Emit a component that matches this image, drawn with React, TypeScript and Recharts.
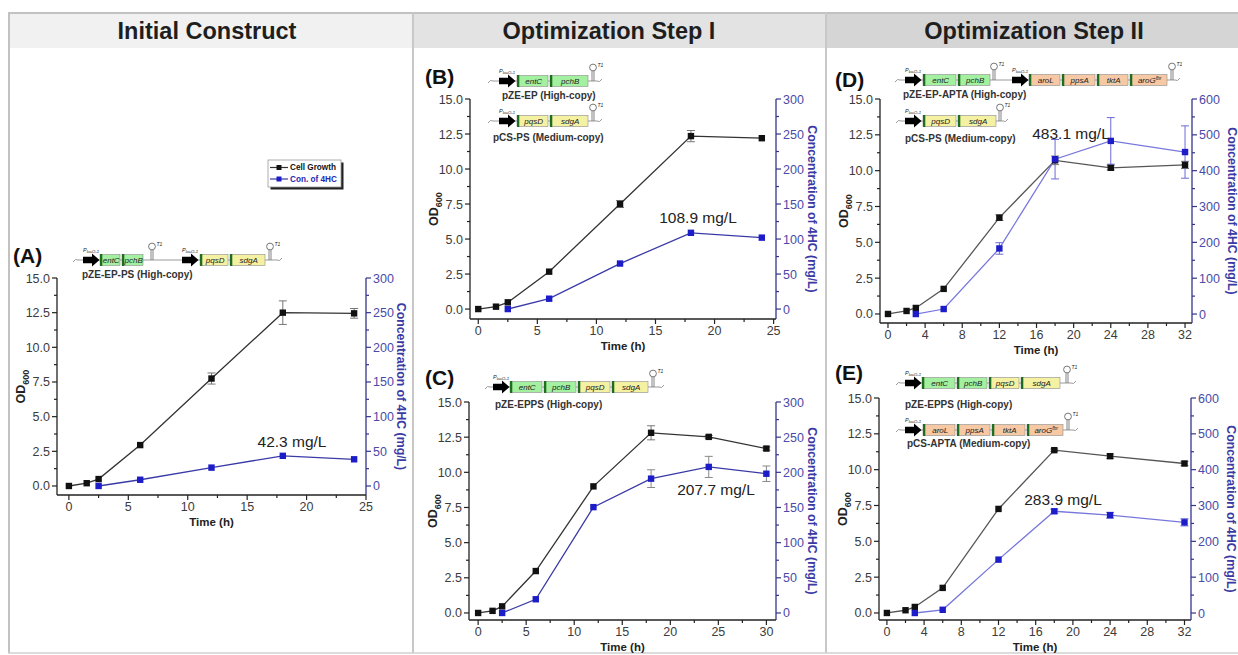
import React from 'react';
import { LineChart, Line, XAxis, YAxis, ErrorBar } from 'recharts';

const FONT = '"Liberation Sans", Arial, Helvetica, sans-serif';

// ---------------- Data ----------------
const timeA = [0, 1.5, 2.5, 6, 12, 18, 24];
const odA = [0, 0.2, 0.5, 2.95, 7.75, 12.5, 12.45];
const odErrA = [null, null, null, null, 0.4, 0.85, 0.35];
const hcA = [null, null, 0, 9, 26.5, 43.5, 38.5];
const hcErrA = [null, null, null, null, null, null, null];

const timeB = [0, 1.5, 2.5, 6, 12, 18, 24];
const odB = [0, 0.17, 0.48, 2.67, 7.5, 12.35, 12.2];
const odErrB = [null, null, null, null, 0.25, 0.4, null];
const hcB = [null, null, 0, 14.8, 65, 108.9, 102];
const hcErrB = [null, null, null, null, null, null, null];

const timeC = [0, 1.5, 2.5, 6, 12, 18, 24, 30];
const odC = [0, 0.15, 0.47, 2.98, 9.0, 12.81, 12.52, 11.69];
const odErrC = [null, null, null, null, null, 0.5, 0.1, 0.12];
const hcC = [null, null, 0, 19.5, 150.5, 191, 207.7, 198];
const hcErrC = [null, null, null, null, null, 12.6, 15, 11];

const timeD = [0, 2, 3, 6, 12, 18, 24, 32];
const odD = [0, 0.21, 0.42, 1.75, 6.72, 10.72, 10.2, 10.4];
const odErrD = [null, null, null, null, 0.2, 0.3, 0.15, 0.25];
const hcD = [null, null, 0, 14, 183, 432, 483.1, 452];
const hcErrD = [null, null, null, null, 16, 55, 65, 73];

const timeE = [0, 2, 3, 6, 12, 18, 24, 32];
const odE = [0, 0.19, 0.42, 1.75, 7.26, 11.36, 10.94, 10.43];
const odErrE = [null, null, null, null, null, 0.08, 0.15, 0.15];
const hcE = [null, null, 0, 9, 149, 283.9, 273, 253];
const hcErrE = [null, null, null, null, null, 6, 8, 10];

// ---------------- Ticks ----------------
const odTicks = [0, 2.5, 5, 7.5, 10, 12.5, 15];
const odMinor = [1.25, 3.75, 6.25, 8.75, 11.25, 13.75];
const hcTicks300 = [0, 50, 100, 150, 200, 250, 300];
const hcMinor300 = [25, 75, 125, 175, 225, 275];
const hcTicks600 = [0, 100, 200, 300, 400, 500, 600];
const hcMinor600 = [50, 150, 250, 350, 450, 550];
const tTicks25 = [0, 5, 10, 15, 20, 25];
const tMinor25 = [2.5, 7.5, 12.5, 17.5, 22.5];
const tTicks30 = [0, 5, 10, 15, 20, 25, 30];
const tMinor30 = [2.5, 7.5, 12.5, 17.5, 22.5, 27.5];
const tTicks32 = [0, 4, 8, 12, 16, 20, 24, 28, 32];
const tMinor32 = [2, 6, 10, 14, 18, 22, 26, 30];

// ---------------- Text ----------------
const headers = ['Initial Construct', 'Optimization  Step I', 'Optimization Step II'];
const panelLetters = ['(A)', '(B)', '(C)', '(D)', '(E)'];
const peakLabels = ['42.3 mg/L', '108.9 mg/L', '207.7 mg/L', '483.1 mg/L', '283.9 mg/L'];
const legendNames = ['Cell Growth', 'Con. of 4HC'];
const yLeftTitle = 'OD';
const yLeftSub = '600';
const yRightTitle = 'Concentration of 4HC (mg/L)';
const xTitle = 'Time (h)';

const GREEN = '#a3f0a0';
const YELLOW = '#f5f1a2';
const PEACH = '#f6c9a4';

const panels = [
  {
    time: timeA, od: odA, odErr: odErrA, hc: hcA, hcErr: hcErrA,
    left: 57, right: 366, top: 278, bottom: 495,
    xDom: [-1, 25], yDom: [-0.65, 15], rDom: [-13, 300],
    xTicks: tTicks25, xMinor: tMinor25, rTicks: hcTicks300, rMinor: hcMinor300,
    odColor: '#333', hcColor: '#3a3aa6', hcErrColor: '#888', rOff: 35,
    letter: [13, 256], peak: [292, 442],
  },
  {
    time: timeB, od: odB, odErr: odErrB, hc: hcB, hcErr: hcErrB,
    left: 470, right: 776, top: 99, bottom: 319,
    xDom: [-0.7, 25.2], yDom: [-0.71, 15], rDom: [-14.2, 300],
    xTicks: tTicks25, xMinor: tMinor25, rTicks: hcTicks300, rMinor: hcMinor300,
    odColor: '#333', hcColor: '#3a3aa6', hcErrColor: '#888', rOff: 36,
    letter: [425, 77], peak: [698, 218],
  },
  {
    time: timeC, od: odC, odErr: odErrC, hc: hcC, hcErr: hcErrC,
    left: 469, right: 776, top: 402, bottom: 620,
    xDom: [-0.95, 31], yDom: [-0.5, 15], rDom: [-10, 300],
    xTicks: tTicks30, xMinor: tMinor30, rTicks: hcTicks300, rMinor: hcMinor300,
    odColor: '#333', hcColor: '#3a3aa6', hcErrColor: '#888', rOff: 36,
    letter: [425, 378], peak: [716, 490],
  },
  {
    time: timeD, od: odD, odErr: odErrD, hc: hcD, hcErr: hcErrD,
    left: 880, right: 1192, top: 99, bottom: 323,
    xDom: [-0.86, 32.75], yDom: [-0.63, 15], rDom: [-25, 600],
    xTicks: tTicks32, xMinor: tMinor32, rTicks: hcTicks600, rMinor: hcMinor600,
    odColor: '#555', hcColor: '#7878dc', hcErrColor: '#6a6ad6', rOff: 40,
    letter: [835, 80], peak: [1071, 134],
  },
  {
    time: timeE, od: odE, odErr: odErrE, hc: hcE, hcErr: hcErrE,
    left: 879, right: 1191, top: 398, bottom: 620,
    xDom: [-0.85, 32.7], yDom: [-0.49, 15], rDom: [-19.5, 600],
    xTicks: tTicks32, xMinor: tMinor32, rTicks: hcTicks600, rMinor: hcMinor600,
    odColor: '#555', hcColor: '#7878dc', hcErrColor: '#6a6ad6', rOff: 40,
    letter: [835, 373], peak: [1063, 500],
  },
];

// gene constructs (decorative diagrams)
const constructs = [
  { x0: 73, x1: 282, y: 260, label: 'pZE-EP-PS (High-copy)', lx: 82, ly: 274,
    parts: [
      { k: 'p', x: 83 }, { k: 'g', x: 100, w: 20, n: 'entC', c: GREEN }, { k: 'g', x: 122, w: 21, n: 'pchB', c: GREEN },
      { k: 't', x: 152 }, { k: 'p', x: 182 }, { k: 'g', x: 200, w: 28, n: 'pqsD', c: YELLOW },
      { k: 'g', x: 230, w: 35, n: 'sdgA', c: YELLOW }, { k: 't', x: 270 },
    ] },
  { x0: 488, x1: 602, y: 81, label: 'pZE-EP (High-copy)', lx: 502, ly: 95,
    parts: [
      { k: 'p', x: 499 }, { k: 'g', x: 517, w: 31, n: 'entC', c: GREEN }, { k: 'g', x: 550, w: 38, n: 'pchB', c: GREEN },
      { k: 't', x: 593 },
    ] },
  { x0: 488, x1: 602, y: 121, label: 'pCS-PS (Medium-copy)', lx: 493, ly: 137,
    parts: [
      { k: 'p', x: 499 }, { k: 'g', x: 517, w: 31, n: 'pqsD', c: YELLOW }, { k: 'g', x: 550, w: 38, n: 'sdgA', c: YELLOW },
      { k: 't', x: 593 },
    ] },
  { x0: 485, x1: 664, y: 387, label: 'pZE-EPPS (High-copy)', lx: 495, ly: 404,
    parts: [
      { k: 'p', x: 493 }, { k: 'g', x: 510, w: 32, n: 'entC', c: GREEN }, { k: 'g', x: 544, w: 32, n: 'pchB', c: GREEN },
      { k: 'g', x: 578, w: 32, n: 'pqsD', c: YELLOW }, { k: 'g', x: 612, w: 36, n: 'sdgA', c: YELLOW }, { k: 't', x: 653 },
    ] },
  { x0: 895, x1: 1180, y: 80, label: 'pZE-EP-APTA  (High-copy)', lx: 903, ly: 94,
    parts: [
      { k: 'p', x: 905 }, { k: 'g', x: 923, w: 33, n: 'entC', c: GREEN }, { k: 'g', x: 958, w: 32, n: 'pchB', c: GREEN },
      { k: 't', x: 994 }, { k: 'p', x: 1012 }, { k: 'g', x: 1029, w: 31, n: 'aroL', c: PEACH },
      { k: 'g', x: 1062, w: 33, n: 'ppsA', c: PEACH }, { k: 'g', x: 1097, w: 31, n: 'tktA', c: PEACH },
      { k: 'g', x: 1130, w: 37, n: 'aroG', sup: 'fbr', c: PEACH }, { k: 't', x: 1172 },
    ] },
  { x0: 896, x1: 1008, y: 121, label: 'pCS-PS (Medium-copy)', lx: 905, ly: 138,
    parts: [
      { k: 'p', x: 905 }, { k: 'g', x: 923, w: 33, n: 'pqsD', c: YELLOW }, { k: 'g', x: 958, w: 38, n: 'sdgA', c: YELLOW },
      { k: 't', x: 1000 },
    ] },
  { x0: 896, x1: 1076, y: 383, label: 'pZE-EPPS (High-copy)', lx: 905, ly: 404,
    parts: [
      { k: 'p', x: 905 }, { k: 'g', x: 922, w: 33, n: 'entC', c: GREEN }, { k: 'g', x: 957, w: 30, n: 'pchB', c: GREEN },
      { k: 'g', x: 989, w: 30, n: 'pqsD', c: YELLOW }, { k: 'g', x: 1021, w: 39, n: 'sdgA', c: YELLOW }, { k: 't', x: 1067 },
    ] },
  { x0: 896, x1: 1078, y: 430, label: 'pCS-APTA  (Medium-copy)', lx: 907, ly: 443,
    parts: [
      { k: 'p', x: 905 }, { k: 'g', x: 923, w: 32, n: 'aroL', c: PEACH }, { k: 'g', x: 957, w: 33, n: 'ppsA', c: PEACH },
      { k: 'g', x: 992, w: 33, n: 'tktA', c: PEACH }, { k: 'g', x: 1027, w: 36, n: 'aroG', sup: 'fbr', c: PEACH },
      { k: 't', x: 1068 },
    ] },
];

// ---------------- Tick renderers ----------------
function LeftTick(props: any) {
  const { x, y, payload, majors } = props;
  const v = payload.value;
  const major = majors.includes(v);
  return (
    <g>
      <line x1={x} x2={x - (major ? 5 : 3)} y1={y} y2={y} stroke="#222" strokeWidth={1.2} />
      {major && (
        <text x={x - 7} y={y} dy="0.36em" textAnchor="end" fontSize={12.5} fill="#3c3c3c" fontFamily={FONT}>
          {v.toFixed(1)}
        </text>
      )}
    </g>
  );
}

function RightTick(props: any) {
  const { x, y, payload, majors, color } = props;
  const v = payload.value;
  const major = majors.includes(v);
  return (
    <g>
      <line x1={x} x2={x + (major ? 5 : 3)} y1={y} y2={y} stroke={color} strokeWidth={1.2} />
      {major && (
        <text x={x + 7} y={y} dy="0.36em" textAnchor="start" fontSize={12.5} fill="#4a4aa8" fontFamily={FONT}>
          {v}
        </text>
      )}
    </g>
  );
}

function BottomTick(props: any) {
  const { x, y, payload, majors } = props;
  const v = payload.value;
  const major = majors.includes(v);
  return (
    <g>
      <line x1={x} x2={x} y1={y} y2={y + (major ? 5 : 3)} stroke="#222" strokeWidth={1.2} />
      {major && (
        <text x={x} y={y + 7} dy="0.71em" textAnchor="middle" fontSize={12.5} fill="#3c3c3c" fontFamily={FONT}>
          {v}
        </text>
      )}
    </g>
  );
}

const squareDot = (fill: string) => (props: any) => {
  const { cx, cy, index, value } = props;
  if (cx == null || cy == null || value == null || Number.isNaN(cy)) return <g key={`d${index}`} />;
  return <rect key={`d${index}`} x={cx - 3.2} y={cy - 3.2} width={6.4} height={6.4} fill={fill} />;
};

function Panel({ p }: { p: any }) {
  const W = p.right - p.left + 120;
  const H = p.bottom - p.top + 60;
  const data = p.time.map((t: number, i: number) => ({
    t, od: p.od[i], odErr: p.odErr[i], hc: p.hc[i], hcErr: p.hcErr[i],
  }));
  const xt = [...p.xTicks, ...p.xMinor].sort((a, b) => a - b);
  const yt = [...odTicks, ...odMinor].sort((a, b) => a - b);
  const rt = [...p.rTicks, ...p.rMinor].sort((a, b) => a - b);
  const rColor = '#34348f';
  return (
    <div style={{ position: 'absolute', left: p.left - 60, top: p.top - 10, width: W, height: H }}>
      <LineChart width={W} height={H} data={data} margin={{ top: 10, right: 0, bottom: 10, left: 0 }}>
        <XAxis
          dataKey="t" type="number" domain={p.xDom} allowDataOverflow ticks={xt} interval={0}
          height={40} tickSize={0} tickMargin={0} tickLine={false}
          axisLine={{ stroke: '#222', strokeWidth: 1.3 }}
          tick={(tp: any) => <BottomTick {...tp} majors={p.xTicks} />}
        />
        <YAxis
          yAxisId="left" orientation="left" type="number" domain={p.yDom} allowDataOverflow ticks={yt}
          interval={0} width={60} tickSize={0} tickMargin={0} tickLine={false}
          axisLine={{ stroke: '#222', strokeWidth: 1.3 }}
          tick={(tp: any) => <LeftTick {...tp} majors={odTicks} />}
        />
        <YAxis
          yAxisId="right" orientation="right" type="number" domain={p.rDom} allowDataOverflow ticks={rt}
          interval={0} width={60} tickSize={0} tickMargin={0} tickLine={false}
          axisLine={{ stroke: rColor, strokeWidth: 1.3 }}
          tick={(tp: any) => <RightTick {...tp} majors={p.rTicks} color={rColor} />}
        />
        <Line
          yAxisId="left" dataKey="od" stroke={p.odColor} strokeWidth={1.3}
          dot={squareDot('#111')} activeDot={false} isAnimationActive={false}
        >
          <ErrorBar dataKey="odErr" width={4} stroke="#777" strokeWidth={1} direction="y" />
        </Line>
        <Line
          yAxisId="right" dataKey="hc" stroke={p.hcColor} strokeWidth={1.3}
          dot={squareDot('#1c1cc8')} activeDot={false} isAnimationActive={false}
        >
          <ErrorBar dataKey="hcErr" width={4} stroke={p.hcErrColor} strokeWidth={1} direction="y" />
        </Line>
      </LineChart>
    </div>
  );
}

function Construct({ c }: { c: any }) {
  const y = c.y;
  return (
    <g>
      <line x1={c.x0 + 5} x2={c.x1 - 5} y1={y} y2={y} stroke="#9a9a9a" strokeWidth={1} />
      <path d={`M${c.x0} ${y + 2} q 2.5 -4 5 -2`} stroke="#9a9a9a" fill="none" strokeWidth={1} />
      <path d={`M${c.x1 - 5} ${y} q 2.5 2 5 -2`} stroke="#9a9a9a" fill="none" strokeWidth={1} />
      {c.parts.map((pt: any, i: number) => {
        if (pt.k === 'p') {
          return (
            <g key={i}>
              <path d={`M${pt.x} ${y - 3.2} h9 v-3.3 l7.5 6.5 l-7.5 6.5 v-3.3 h-9 z`} fill="#000" />
              <text x={pt.x} y={y - 8} fontSize={5.5} fontStyle="italic" fill="#222" fontFamily={FONT}>
                P<tspan fontSize={4.2} dy={1}>lacO-1</tspan>
              </text>
            </g>
          );
        }
        if (pt.k === 'g') {
          return (
            <g key={i}>
              <rect x={pt.x} y={y - 5.5} width={pt.w} height={11} fill={pt.c} stroke="#8c8c8c" strokeWidth={0.6} />
              <rect x={pt.x} y={y - 6} width={2.3} height={12} fill="#1f6e1f" />
              <text x={pt.x + pt.w / 2 + 1.2} y={y} dy="0.35em" textAnchor="middle" fontSize={8} fontStyle="italic" fill="#222" fontFamily={FONT}>
                {pt.n}
                {pt.sup ? <tspan fontSize={5} dy={-3}>{pt.sup}</tspan> : null}
              </text>
            </g>
          );
        }
        return (
          <g key={i}>
            <line x1={pt.x - 1} x2={pt.x - 1} y1={y} y2={y - 10} stroke="#666" strokeWidth={0.8} />
            <line x1={pt.x + 1} x2={pt.x + 1} y1={y} y2={y - 10} stroke="#666" strokeWidth={0.8} />
            <circle cx={pt.x} cy={y - 13.5} r={3.4} fill="#fff" stroke="#555" strokeWidth={0.8} />
            <text x={pt.x + 4.5} y={y - 14} fontSize={5} fontStyle="italic" fill="#222" fontFamily={FONT}>T1</text>
          </g>
        );
      })}
      <text x={c.lx} y={c.ly} dy="0.35em" fontSize={10} fontWeight="bold" fill="#333" fontFamily={FONT}>{c.label}</text>
    </g>
  );
}

export default function App() {
  const headerCells = [
    { x: 9, w: 404, fill: '#f1f1f1', cx: 207 },
    { x: 413, w: 413, fill: '#e3e3e3', cx: 609 },
    { x: 826, w: 412, fill: '#d5d5d5', cx: 1034 },
  ];
  return (
    <div style={{ position: 'absolute', left: 0, top: 0, width: 1238, height: 655, background: '#fff', overflow: 'hidden', fontFamily: FONT }}>
      <svg width={1238} height={655} style={{ position: 'absolute', left: 0, top: 0 }}>
        {headerCells.map((h, i) => (
          <g key={i}>
            <rect x={h.x} y={13} width={h.w} height={35} fill={h.fill} />
            <text x={h.cx} y={31} dy="0.35em" textAnchor="middle" fontSize={23.5} fontWeight="bold" fill="#1e1e1e" fontFamily={FONT}>
              {headers[i]}
            </text>
          </g>
        ))}
        <line x1={8} x2={1238} y1={13} y2={13} stroke="#c2c2c2" strokeWidth={2} />
        <line x1={9} x2={9} y1={12} y2={653} stroke="#c2c2c2" strokeWidth={2} />
        <line x1={413} x2={413} y1={12} y2={653} stroke="#c8c8c8" strokeWidth={2} />
        <line x1={826} x2={826} y1={12} y2={653} stroke="#c8c8c8" strokeWidth={2} />
        <line x1={8} x2={1238} y1={653} y2={653} stroke="#d0d0d0" strokeWidth={1.5} />
      </svg>

      {panels.map((p, i) => <Panel key={i} p={p} />)}

      <svg width={1238} height={655} style={{ position: 'absolute', left: 0, top: 0, pointerEvents: 'none' }}>
        {panels.map((p, i) => {
          const my = (p.top + p.bottom) / 2;
          const lx = p.left - 36;
          const rx = p.right + p.rOff;
          const cx = (p.left + p.right) / 2;
          return (
            <g key={i} fontFamily={FONT}>
              <text x={lx} y={my} dy="0.35em" textAnchor="middle" fontSize={12.5} fontWeight="bold" fill="#222"
                transform={`rotate(-90 ${lx} ${my})`}>
                {yLeftTitle}<tspan fontSize={9} dy={4}>{yLeftSub}</tspan>
              </text>
              <text x={rx} y={my} dy="0.35em" textAnchor="middle" fontSize={12.3} fontWeight="bold" fill="#3a3aa5"
                transform={`rotate(90 ${rx} ${my})`}>
                {yRightTitle}
              </text>
              <text x={cx} y={p.bottom + 27} dy="0.35em" textAnchor="middle" fontSize={11.5} fontWeight="bold" fill="#222">
                {xTitle}
              </text>
              <text x={p.letter[0]} y={p.letter[1]} dy="0.35em" fontSize={21} fontWeight="bold" fill="#111">
                {panelLetters[i]}
              </text>
              <text x={p.peak[0]} y={p.peak[1]} dy="0.35em" textAnchor="middle" fontSize={15.5} fill="#222">
                {peakLabels[i]}
              </text>
            </g>
          );
        })}
        {constructs.map((c, i) => <Construct key={i} c={c} />)}

        {/* legend of panel A */}
        <g fontFamily={FONT}>
          <rect x={270.5} y={162.5} width={73} height={27} fill="#222" />
          <rect x={268} y={160} width={73} height={27} fill="#fff" stroke="#999" strokeWidth={0.8} />
          <line x1={270} x2={288} y1={167.5} y2={167.5} stroke="#333" strokeWidth={1.2} />
          <rect x={276.5} y={165} width={5} height={5} fill="#111" />
          <text x={290} y={167.5} dy="0.35em" fontSize={8.2} fontWeight="bold" fill="#111">{legendNames[0]}</text>
          <line x1={270} x2={288} y1={179} y2={179} stroke="#3a3aa6" strokeWidth={1.2} />
          <rect x={276.5} y={176.5} width={5} height={5} fill="#1c1cc8" />
          <text x={290} y={179} dy="0.35em" fontSize={8.2} fontWeight="bold" fill="#2727b0">{legendNames[1]}</text>
        </g>
      </svg>
    </div>
  );
}
